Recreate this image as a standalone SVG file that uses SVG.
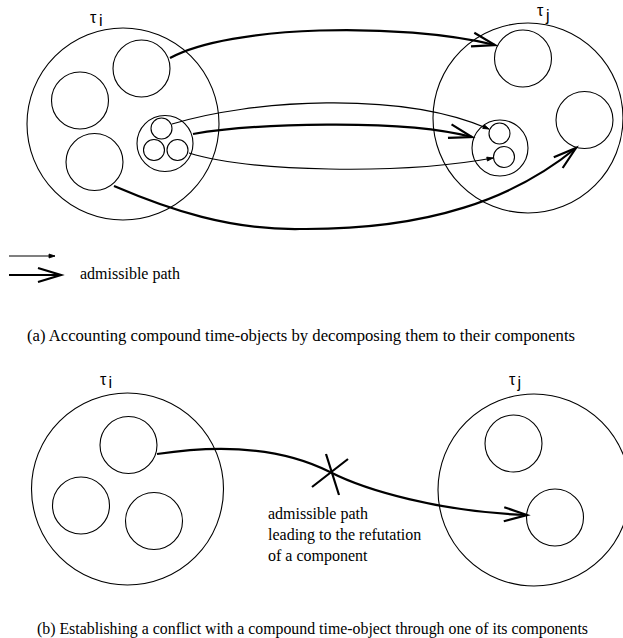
<svg xmlns="http://www.w3.org/2000/svg" width="623" height="638" viewBox="0 0 623 638">
  <style>
    .c { fill: none; stroke: #000; stroke-width: 1.1; }
    .thin { fill: none; stroke: #000; stroke-width: 1.1; }
    .thick { fill: none; stroke: #000; stroke-width: 2.2; }
    .lbl { font-family: "Liberation Serif", "Times New Roman", serif; font-size: 16px; fill: #000; }
    .tau { font-family: "Liberation Sans", Arial, sans-serif; font-size: 16px; fill: #000; }
  </style>
  <defs>
    <marker id="openArrow" markerUnits="userSpaceOnUse" markerWidth="30" markerHeight="20" refX="23" refY="7" orient="auto" overflow="visible">
      <path d="M0,0 L23,7 L0,14" fill="none" stroke="#000" stroke-width="2.2"/>
    </marker>
    <marker id="smallArrow" markerUnits="userSpaceOnUse" markerWidth="10" markerHeight="8" refX="6" refY="2" orient="auto" overflow="visible">
      <path d="M0,0 L6,2 L0,4 Z" fill="#000" stroke="#000" stroke-width="0.8"/>
    </marker>
  </defs>
  <rect width="623" height="638" fill="#fff"/>

  <!-- (a) source compound time-object -->
  <g id="a-tau-i">
    <circle class="c" cx="123" cy="124" r="96"/>
    <text class="tau" x="90" y="22.5">τ</text>
    <text class="tau" x="99" y="25.5" font-size="14">i</text>
  </g>
  <g id="a-i-top"><circle class="c" cx="141.5" cy="68.5" r="28.5"/></g>
  <g id="a-i-left"><circle class="c" cx="80" cy="100.5" r="28.5"/></g>
  <g id="a-i-bottom"><circle class="c" cx="94.5" cy="162" r="28.5"/></g>
  <g id="a-i-compound">
    <circle class="c" cx="165" cy="143.5" r="28"/>
    <circle class="c" cx="161.5" cy="128.5" r="10.5"/>
    <circle class="c" cx="154" cy="150" r="10.5"/>
    <circle class="c" cx="177.5" cy="150" r="10.5"/>
  </g>

  <!-- (a) target compound time-object -->
  <g id="a-tau-j">
    <circle class="c" cx="528" cy="118" r="95"/>
    <text class="tau" x="537" y="16">τ</text>
    <text class="tau" x="546" y="21" font-size="14">j</text>
  </g>
  <g id="a-j-top"><circle class="c" cx="523" cy="58.5" r="28.5"/></g>
  <g id="a-j-right"><circle class="c" cx="584.5" cy="120" r="28.5"/></g>
  <g id="a-j-compound">
    <circle class="c" cx="500" cy="148" r="28"/>
    <circle class="c" cx="499.5" cy="133.5" r="10.5"/>
    <circle class="c" cx="504" cy="157" r="10.5"/>
  </g>

  <!-- (a) connectors -->
  <g id="a-connectors">
    <path class="thick" d="M170,58 C230,25 400,22 495,45" marker-end="url(#openArrow)"/>
    <path class="thin" d="M172,124 C250,100 400,90 489,129" marker-end="url(#smallArrow)"/>
    <path class="thick" d="M193,134 C250,124 400,118 472,137" marker-end="url(#openArrow)"/>
    <path class="thin" d="M189,153 C250,172 400,175 493,158" marker-end="url(#smallArrow)"/>
    <path class="thick" d="M114,186 C170,210 230,230 300,229 C430,230 515,198 576,148" marker-end="url(#openArrow)"/>
  </g>

  <!-- legend -->
  <g id="legend">
    <path class="thin" d="M9,256 L55,256" marker-end="url(#smallArrow)"/>
    <path class="thick" d="M9,275 L61,275" marker-end="url(#openArrow)"/>
    <text class="lbl" x="80" y="279">admissible path</text>
  </g>

  <text class="lbl" x="27" y="341" textLength="548" lengthAdjust="spacingAndGlyphs">(a) Accounting compound time-objects by decomposing them to their components</text>

  <!-- (b) source compound time-object -->
  <g id="b-tau-i">
    <circle class="c" cx="127.5" cy="489" r="96"/>
    <text class="tau" x="100" y="385">τ</text>
    <text class="tau" x="108.5" y="388" font-size="14">i</text>
  </g>
  <g id="b-i-top"><circle class="c" cx="128.5" cy="445" r="28.5"/></g>
  <g id="b-i-left"><circle class="c" cx="81" cy="505.5" r="28.5"/></g>
  <g id="b-i-right"><circle class="c" cx="154" cy="521" r="28.5"/></g>

  <!-- (b) target compound time-object -->
  <g id="b-tau-j">
    <circle class="c" cx="534" cy="490" r="96"/>
    <text class="tau" x="509" y="385">τ</text>
    <text class="tau" x="517.5" y="388" font-size="14">j</text>
  </g>
  <g id="b-j-top"><circle class="c" cx="513.5" cy="443.5" r="28.5"/></g>
  <g id="b-j-bottom"><circle class="c" cx="555" cy="517.5" r="28.5"/></g>

  <!-- (b) connector with refutation mark -->
  <g id="b-connectors">
    <path class="thick" d="M157,454 C210,446 275,444 330,472 C365,490 440,512 527,515" marker-end="url(#openArrow)"/>
    <path class="thick" d="M326,454 L339,495 M312,487 L348,459"/>
  </g>
  <g id="b-label">
    <text class="lbl" x="268" y="519">admissible path</text>
    <text class="lbl" x="268" y="540">leading to the refutation</text>
    <text class="lbl" x="268" y="561">of a component</text>
  </g>

  <text class="lbl" x="37" y="634" textLength="551" lengthAdjust="spacingAndGlyphs">(b) Establishing a conflict with a compound time-object through one of its components</text>
</svg>
